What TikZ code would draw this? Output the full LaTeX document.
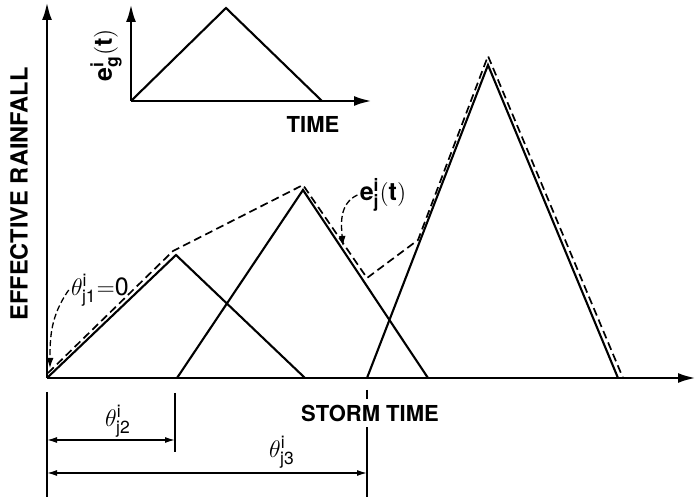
\documentclass[tikz,border=0pt]{standalone}
\usepackage{fontspec}
\setmainfont{TeX Gyre Heros}
\usetikzlibrary{arrows.meta}
\begin{document}
\begin{tikzpicture}[x=0.5pt,y=-0.5pt,
  axis/.style={line width=1.4pt,-{Latex[length=9pt,width=5pt]}},
  tri/.style={line width=1.05pt},
  env/.style={line width=0.85pt,dash pattern=on 4pt off 2.2pt},
  ext/.style={line width=0.55pt},
  dim/.style={line width=0.7pt,{Latex[length=5pt,width=3pt]}-{Latex[length=5pt,width=3pt]}},
  lbl/.style={font=\fontsize{11}{13}\selectfont\bfseries, inner sep=1pt},
  big/.style={font=\fontsize{12.5}{14}\selectfont, inner sep=1pt},
  ptr/.style={line width=0.65pt,dash pattern=on 3pt off 1.5pt,-{Latex[length=5pt,width=3.5pt]}}
]
\useasboundingbox (0,0) rectangle (697,497);
% main axes
\coordinate (O) at (47,378);
\coordinate (Ytop) at (47,2);
\coordinate (Xend) at (696,378);
\draw[axis] (O) -- (Ytop);
\draw[axis] (O) -- (Xend);
% triangles
\coordinate (T1a) at (47,378);  \coordinate (T1p) at (176,255); \coordinate (T1b) at (305,378);
\coordinate (T2a) at (177,378); \coordinate (T2p) at (303,190); \coordinate (T2b) at (428,378);
\coordinate (T3a) at (367,378); \coordinate (T3p) at (488,65);  \coordinate (T3b) at (618,378);
\draw[tri] (T1a) -- (T1p) -- (T1b);
\draw[tri] (T2a) -- (T2p) -- (T2b);
\draw[tri] (T3a) -- (T3p) -- (T3b);
% envelope
\coordinate (E0) at (48,373); \coordinate (E1) at (173,251); \coordinate (E2) at (303,185);
\coordinate (E3) at (367,278); \coordinate (E4) at (418,240); \coordinate (E5) at (488,56);
\coordinate (E6) at (623,378);
\draw[env] (E0) -- (E1) -- (E2) -- (E3) -- (E4) -- (E5) -- (E6);
% inset
\coordinate (I0) at (131,101); \coordinate (Itop) at (131,4); \coordinate (Iend) at (372,101);
\coordinate (Ip) at (226,8); \coordinate (Ib) at (322,101);
\draw[axis] (I0) -- (Itop);
\draw[axis] (I0) -- (Iend);
\draw[tri] (I0) -- (Ip) -- (Ib);
\node[big, rotate=90] (eg) at (106,55) {$\mathbf{e}^{\mathbf{i}}_{\mathbf{g}}\mathbf{(t)}$};
\node[lbl] (time) at (313,124) {TIME};
% axis labels
\node[font=\fontsize{11.8}{14}\selectfont\bfseries, inner sep=1pt, rotate=90] (yl) at (19,194) {EFFECTIVE RAINFALL};
% extension lines
\coordinate (X0a) at (47,392); \coordinate (X0b) at (47,497);
\coordinate (X2a) at (175,393); \coordinate (X2b) at (175,452);
\coordinate (X3a) at (367,390); \coordinate (X3b) at (367,497);
\draw[ext] (X0a) -- (X0b);
\draw[ext] (X2a) -- (X2b);
\draw[ext] (X3a) -- (X3b);
\node[lbl, fill=white, inner sep=3pt] (st) at (370,413) {STORM TIME};
% dimensions
\coordinate (D2a) at (47,440); \coordinate (D2b) at (175,440);
\coordinate (D3a) at (47,473); \coordinate (D3b) at (367,473);
\draw[dim] (D2a) -- (D2b);
\draw[dim] (D3a) -- (D3b);
\node[big] (lj2) at (118,421) {$\theta^{\mathrm{i}}_{\mathrm{j2}}$};
\node[big] (lj3) at (282,452) {$\theta^{\mathrm{i}}_{\mathrm{j3}}$};
% pointer labels
\node[big] (lj1) at (100,290) {$\theta^{\mathrm{i}}_{\mathrm{j1}}{=}\mathrm{0}$};
\coordinate (P1) at (50,368);
\draw[ptr] (lj1.west) to[out=-125,in=90] (P1);
\node[big] (lej) at (383,195) {$\mathbf{e}^{\mathbf{i}}_{\mathbf{j}}\mathbf{(t)}$};
\coordinate (P2) at (343,246);
\draw[ptr] (lej.west) to[out=-155,in=95] (P2);
\end{tikzpicture}
\end{document}
